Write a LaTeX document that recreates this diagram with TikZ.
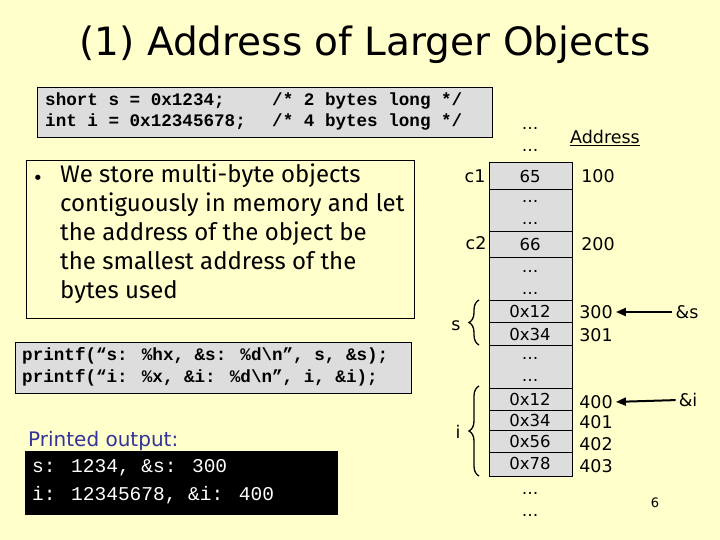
\documentclass[tikz,border=0pt]{standalone}
\usepackage{fontspec}
\setmainfont{DejaVu Sans}
\newfontfamily\codef{Liberation Mono}
\newfontfamily\bodyf{Fira Sans}
\usetikzlibrary{decorations.pathreplacing,arrows.meta}
\definecolor{bg}{RGB}{255,255,204}
\definecolor{cellg}{RGB}{221,221,221}
\definecolor{pblue}{RGB}{51,51,153}
\tikzset{
 codebox/.style={draw=black,fill=cellg,inner sep=0pt},
 codetxt/.style={anchor=west,font=\codef\bfseries\fontsize{17.6}{18}\selectfont,inner sep=0pt},
 cell/.style={draw=black,fill=cellg},
 celltxt/.style={font=\fontsize{16.5}{18}\selectfont,inner sep=0pt},
 lbl/.style={font=\fontsize{17.5}{18}\selectfont,inner sep=0pt},
 brc/.style={decorate,decoration={brace,amplitude=10pt},line width=1.3pt},
 arr/.style={-{Triangle[length=10pt,width=8pt]},line width=2pt,shorten >=3pt,shorten <=3pt}
}
\begin{document}
\begin{tikzpicture}[x=1pt,y=-1pt]
\fill[bg] (0,0) rectangle (720,540);
\useasboundingbox (0,0) rectangle (720,540);
\node[font=\fontsize{39}{42}\selectfont,inner sep=0pt] (title) at (365,45) {(1) Address of Larger Objects};
% code box 1
\draw[codebox] (37,87) rectangle (492,137);
\node[codetxt] (c1a) at (45,101) {short s = 0x1234;};
\node[codetxt] (c1b) at (45,122) {int i = 0x12345678;};
\node[codetxt] (c1c) at (272,101) {/* 2 bytes long */};
\node[codetxt] (c1d) at (272,122) {/* 4 bytes long */};
% bullet box
\draw[fill=bg] (26,160) rectangle (414,318);
\node[inner sep=0pt,font=\fontsize{18}{18}\selectfont] (bul) at (38,180) {•};
\node[anchor=north west,align=left,inner sep=0pt,font=\bodyf\fontsize{24}{29}\selectfont] (btxt) at (60,164)
 {We store multi-byte objects\\contiguously in memory and let\\the address of the object be\\the smallest address of the\\bytes used};
% printf box
\draw[codebox] (15,342) rectangle (411,393);
\node[codetxt] (p1) at (22,356) {printf(“s: \%hx, \&s: \%d\textbackslash n”, s, \&s);};
\node[codetxt] (p2) at (22,378) {printf(“i: \%x, \&i: \%d\textbackslash n”, i, \&i);};
% output
\node[anchor=west,inner sep=0pt,text=pblue,font=\fontsize{20}{20}\selectfont] (po) at (28,441) {Printed output:};
\fill[black] (25,451) rectangle (338,515);
\node[codetxt,text=white,font=\codef\fontsize{19.5}{20}\selectfont] (o1) at (32,468) {s: 1234, \&s: 300};
\node[codetxt,text=white,font=\codef\fontsize{19.5}{20}\selectfont] (o2) at (32,495) {i: 12345678, \&i: 400};
% memory
\foreach \a/\b in {162/189,189/231,231/257,257/300,300/322,322/345,345/388,388/410,410/430,430/452,452/476}
  \draw[cell] (489,\a) rectangle (572,\b);
\node[celltxt] (m1) at (530,176) {65};
\node[celltxt] (m2) at (530,244) {66};
\node[celltxt] (m3) at (530,311) {0x12};
\node[celltxt] (m4) at (530,334) {0x34};
\node[celltxt] (m5) at (530,399) {0x12};
\node[celltxt] (m6) at (530,420) {0x34};
\node[celltxt] (m7) at (530,441) {0x56};
\node[celltxt] (m8) at (530,463) {0x78};
\foreach \y in {128,150,201,223,271,293,358,380,493,515}
  \node[celltxt] at (530,\y) {…};
\node[lbl] (addr) at (605,138) {\underline{Address}};
\node[lbl] (a1) at (598,176) {100};
\node[lbl] (a2) at (598,244) {200};
\node[lbl] (a3) at (596,312) {300};
\node[lbl] (a4) at (596,335) {301};
\node[lbl] (a5) at (596,402) {400};
\node[lbl] (a6) at (596,422) {401};
\node[lbl] (a7) at (596,444) {402};
\node[lbl] (a8) at (596,466) {403};
\node[lbl] (as) at (687,312) {\&s};
\node[lbl] (ai) at (688,400) {\&i};
\draw[arr] (as.west) -- (a3.east);
\draw[arr] (ai.west) -- (a5.east);
\node[lbl] (lc1) at (475,176) {c1};
\node[lbl] (lc2) at (476,243) {c2};
\node[lbl] (ls) at (456,326) {s};
\node[lbl] (li) at (458,432) {i};
\coordinate (bs1) at (479,345); \coordinate (bs2) at (479,300);
\coordinate (bi1) at (479,476); \coordinate (bi2) at (479,386);
\draw[brc] (bs1) -- (bs2);
\draw[brc] (bi1) -- (bi2);
\node[font=\fontsize{13}{14}\selectfont,inner sep=0pt] (pg) at (655,503) {6};
\end{tikzpicture}
\end{document}
